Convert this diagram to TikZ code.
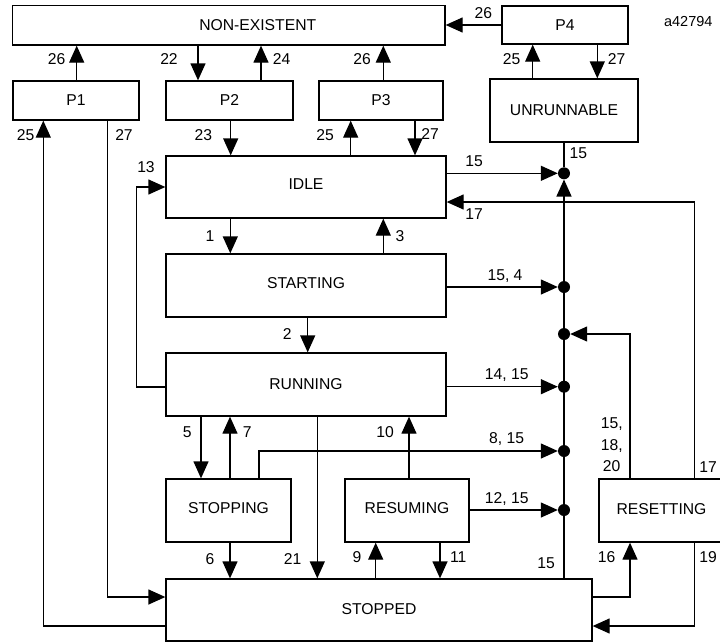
\documentclass[tikz,border=0pt]{standalone}
\usepackage{fontspec}
\setmainfont{Liberation Sans}
\usetikzlibrary{arrows.meta}
\begin{document}
\begin{tikzpicture}[x=1pt,y=-1pt,
  box/.style={draw,line width=1.3pt,inner sep=0pt,font=\fontsize{15.7}{18}\selectfont},
  lbl/.style={inner sep=0pt,text depth=0pt,font=\fontsize{15.7}{18}\selectfont},
  arr/.style={line width=1.3pt,-{Triangle[length=17pt,width=15pt]}},
  ln/.style={line width=1.3pt},
  dot/.style={circle,fill=black,inner sep=0pt,minimum size=12pt}]
\useasboundingbox (0,0) rectangle (720,643);
\clip (0,0) rectangle (720,643);
% boxes
\node[box,minimum width=432.5pt,minimum height=39.5pt,label={[lbl,xshift=29pt]center:NON-EXISTENT}] (ne) at (228.75,25.25) {};
\node[box,minimum width=126pt,minimum height=38pt] (p4) at (565,25) {P4};
\node[box,minimum width=126pt,minimum height=39pt] (p1) at (76,100.5) {P1};
\node[box,minimum width=127pt,minimum height=39pt] (p2) at (229.5,100.5) {P2};
\node[box,minimum width=124pt,minimum height=39pt] (p3) at (381,100.5) {P3};
\node[box,minimum width=148pt,minimum height=63pt] (unr) at (564,110.5) {UNRUNNABLE};
\node[box,minimum width=280pt,minimum height=62pt,text depth=5pt] (idle) at (306,187) {IDLE};
\node[box,minimum width=280pt,minimum height=63pt,text depth=4pt] (start) at (306,285.5) {STARTING};
\node[box,minimum width=280pt,minimum height=63pt] (run) at (306,384.5) {RUNNING};
\node[box,minimum width=125pt,minimum height=63pt,text depth=4pt] (stopping) at (228.5,510.5) {STOPPING};
\node[box,minimum width=124pt,minimum height=63pt,text depth=4pt] (resuming) at (407,510.5) {RESUMING};
\node[box,minimum width=125pt,minimum height=63pt,text depth=3pt] (resetting) at (661.5,510.5) {RESETTING};
\node[box,minimum width=426pt,minimum height=62pt,text depth=2pt] (stopped) at (379,610) {STOPPED};
% junction dots
\node[dot] (d1) at (564,173.3) {};
\node[dot] (d2) at (564,287) {};
\node[dot] (d3) at (564,334) {};
\node[dot] (d4) at (564,386.7) {};
\node[dot] (d5) at (564,451) {};
\node[dot] (d6) at (564,510) {};
% x positions
\coordinate (a26) at (76.7,0);
\coordinate (a22) at (198,0);
\coordinate (a24) at (261,0);
\coordinate (a23) at (230.7,0);
\coordinate (a25b) at (350.7,0);
\coordinate (a26b) at (383.3,0);
\coordinate (a27b) at (415,0);
\coordinate (a25c) at (532.7,0);
\coordinate (a27c) at (597.3,0);
\coordinate (a1) at (230.3,0);
\coordinate (a3) at (383.3,0);
\coordinate (a2) at (307.7,0);
\coordinate (a5) at (201,0);
\coordinate (a7) at (230,0);
\coordinate (a21) at (317.3,0);
\coordinate (a6) at (230,0);
\coordinate (a10) at (409,0);
\coordinate (a9) at (375.7,0);
\coordinate (a11) at (440,0);
% bends
\coordinate (c17) at (694.3,202);
\coordinate (c13a) at (136.7,387);
\coordinate (c13b) at (136.7,187);
\coordinate (c815) at (259,451);
\coordinate (cres) at (630,334);
\coordinate (c16) at (630,597);
\coordinate (c19) at (694.3,626);
\coordinate (c25) at (43.3,626);
\coordinate (c27) at (107.3,597);
% top connectors
\draw[arr] (p1.north -| a26) -- (ne.south -| a26);
\draw[arr] (ne.south -| a22) -- (p2.north -| a22);
\draw[arr] (p2.north -| a24) -- (ne.south -| a24);
\draw[arr] (p2.south -| a23) -- (idle.north -| a23);
\draw[arr] (idle.north -| a25b) -- (p3.south -| a25b);
\draw[arr] (p3.north -| a26b) -- (ne.south -| a26b);
\draw[arr] (p3.south -| a27b) -- (idle.north -| a27b);
\draw[arr] (p4.west) -- (ne.east |- p4.west);
\draw[arr] (unr.north -| a25c) -- (p4.south -| a25c);
\draw[arr] (p4.south -| a27c) -- (unr.north -| a27c);
% main column
\draw[arr] (idle.south -| a1) -- (start.north -| a1);
\draw[arr] (start.north -| a3) -- (idle.south -| a3);
\draw[arr] (start.south -| a2) -- (run.north -| a2);
\draw[arr] (run.west |- c13a) -- (c13a) -- (c13b) -- (idle.west |- c13b);
\draw[arr] (run.south -| a5) -- (stopping.north -| a5);
\draw[arr] (stopping.north -| a7) -- (run.south -| a7);
\draw[arr] (run.south -| a21) -- (stopped.north -| a21);
\draw[arr] (stopping.south -| a6) -- (stopped.north -| a6);
\draw[arr] (resuming.north -| a10) -- (run.south -| a10);
\draw[arr] (stopped.north -| a9) -- (resuming.south -| a9);
\draw[arr] (resuming.south -| a11) -- (stopped.north -| a11);
% bus
\draw[arr] (stopped.north -| d1) -- (d1.south);
\draw[ln] (unr.south) -- (d1);
\draw[arr] (idle.east |- d1) -- (d1.west);
\draw[arr] (start.east |- d2) -- (d2.west);
\draw[arr] (run.east |- d4) -- (d4.west);
\draw[arr] (stopping.north -| c815) -- (c815) -- (d5.west);
\draw[arr] (resuming.east |- d6) -- (d6.west);
\draw[arr] (resetting.north -| cres) -- (cres) -- (d3.east);
\draw[arr] (resetting.north -| c17) -- (c17) -- (idle.east |- c17);
\draw[arr] (stopped.east |- c16) -- (c16) -- (resetting.south -| c16);
\draw[arr] (resetting.south -| c19) -- (c19) -- (stopped.east |- c19);
% outer left loops
\draw[arr] (stopped.west |- c25) -- (c25) -- (p1.south -| c25);
\draw[arr] (p1.south -| c27) -- (c27) -- (stopped.west |- c27);
% labels
\node[lbl] (l1) at (474,161) {15};
\node[lbl] (l2) at (474,214) {17};
\node[lbl] (l3) at (400,236) {3};
\node[lbl] (l4) at (210,235.7) {1};
\node[lbl] (l5) at (146,167.3) {13};
\node[lbl] (l6) at (287.3,334.3) {2};
\node[lbl] (l7) at (505,275) {15, 4};
\node[lbl] (l8) at (506.7,374) {14, 15};
\node[lbl] (l9) at (187.3,431.7) {5};
\node[lbl] (l10) at (247.3,431.7) {7};
\node[lbl] (l11) at (506.7,437.7) {8, 15};
\node[lbl] (l12) at (385,431.7) {10};
\node[lbl] (l13) at (506.7,497.7) {12, 15};
\node[lbl,align=center,font=\fontsize{15.7}{21.5}\selectfont] (l14) at (611.7,444.7) {15,\\18,\\20};
\node[lbl] (l15) at (708,466.7) {17};
\node[lbl] (l16) at (210,559) {6};
\node[lbl] (l17) at (292.7,559) {21};
\node[lbl] (l18) at (357,557) {9};
\node[lbl] (l19) at (458.3,556.7) {11};
\node[lbl] (l20) at (546,563.3) {15};
\node[lbl] (l21) at (606.7,556.7) {16};
\node[lbl] (l22) at (708,556.7) {19};
\node[lbl] (l23) at (25.7,135) {25};
\node[lbl] (l24) at (124,135) {27};
\node[lbl] (l25) at (56.7,59.3) {26};
\node[lbl] (l26) at (169,59.3) {22};
\node[lbl] (l27) at (281.7,59.3) {24};
\node[lbl] (l28) at (203.3,135) {23};
\node[lbl] (l29) at (362,59.3) {26};
\node[lbl] (l30) at (325,135) {25};
\node[lbl] (l31) at (430,134.3) {27};
\node[lbl] (l32) at (483.3,13.3) {26};
\node[lbl] (l33) at (511.7,59.3) {25};
\node[lbl] (l34) at (616.7,59.3) {27};
\node[lbl] (l35) at (578.3,153.3) {15};
\node[lbl,font=\fontsize{14.5}{17}\selectfont] (l36) at (688.3,21.7) {a42794};
\end{tikzpicture}
\end{document}
